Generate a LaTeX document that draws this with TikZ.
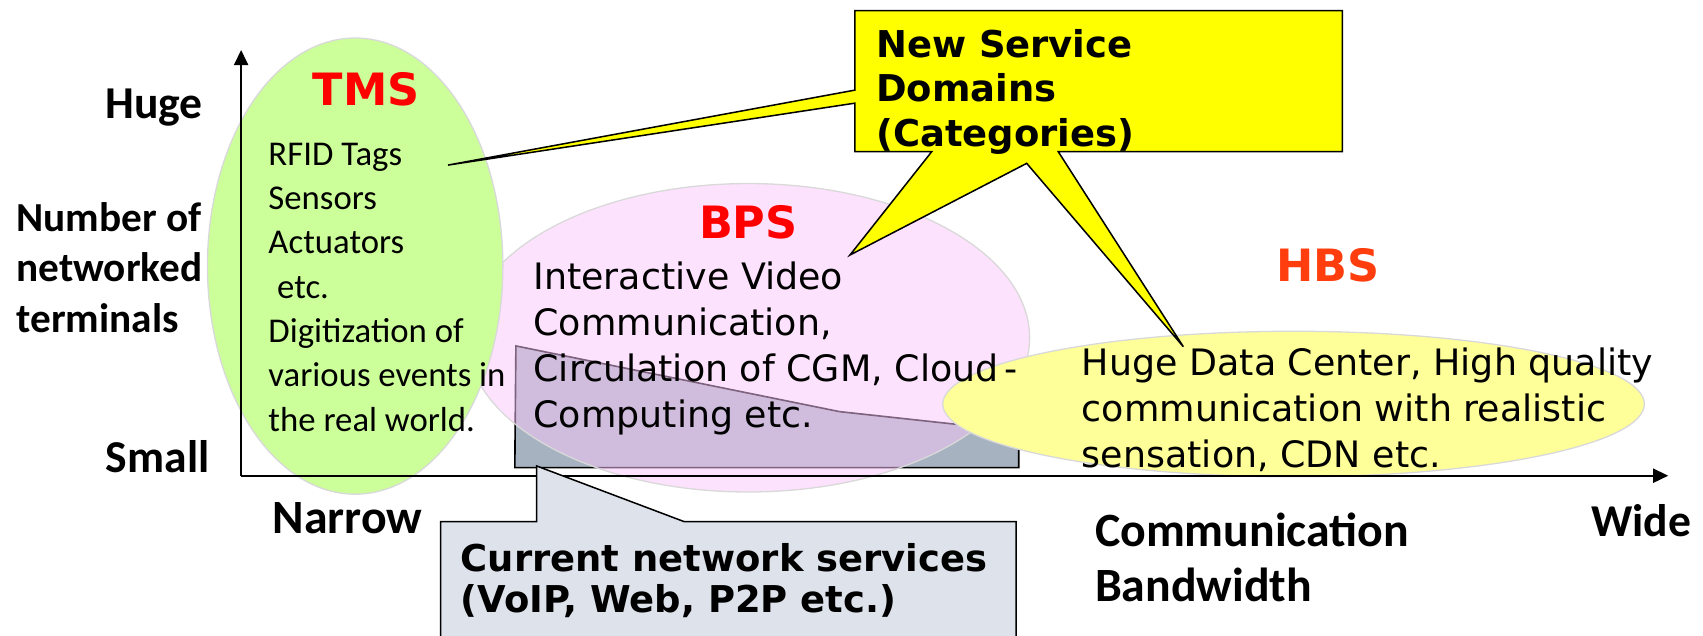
\documentclass[tikz,border=0pt]{standalone}
\usepackage{fontspec}
\setmainfont{Carlito}
\newfontfamily\djsans{DejaVu Sans}
\usetikzlibrary{arrows.meta}
\definecolor{tmsgreen}{RGB}{204,255,153}
\definecolor{bpspink}{RGB}{251,198,251}
\definecolor{hbsyellow}{RGB}{255,255,153}
\definecolor{curgray}{RGB}{166,178,192}
\definecolor{ellgray}{RGB}{217,217,217}
\definecolor{callyellow}{RGB}{255,255,0}
\definecolor{callgray}{RGB}{222,227,235}
\definecolor{hbsred}{RGB}{255,61,13}
\tikzset{
  axislbl/.style={font=\bfseries\fontsize{42}{46.5}\selectfont, inner sep=0},
  axislblml/.style={font=\bfseries\fontsize{38}{46.5}\selectfont, inner sep=0, align=left, anchor=north west},
  tmstext/.style={font=\fontsize{32}{40.8}\selectfont, inner sep=0, align=left, anchor=north west},
  bodytext/.style={font=\djsans\fontsize{33.5}{42.2}\selectfont, inner sep=0, align=left, anchor=north west},
  region/.style={draw=ellgray, line width=1.2},
  catlbl/.style={font=\djsans\bfseries\fontsize{41}{41}\selectfont, inner sep=0},
  callout/.style={draw=black, line width=1.4, line join=miter},
  calltext/.style={font=\djsans\bfseries\fontsize{34}{40.7}\selectfont, inner sep=0, align=left, anchor=north west},
  axisline/.style={line width=1.8, -{Triangle[length=14pt,width=13pt]}},
}
\begin{document}
\begin{tikzpicture}[x=1pt,y=-1pt]
\clip (0,0) rectangle (1568,585);
% current network services area
\draw[fill=curgray, draw=black, line width=1.5]
  (475,318.5) -- (773,379) -- (878,390.4) -- (938,395) -- (938,430.5) -- (474,430.5) -- cycle;
% BPS ellipse (semi-transparent)
\path[fill=bpspink, fill opacity=0.5] (689,311) ellipse [x radius=259, y radius=142];
\draw[ellgray, line width=1.2] (689,311) ellipse [x radius=259, y radius=142];
% TMS ellipse
\draw[region, fill=tmsgreen] (327,245) ellipse [x radius=136, y radius=210];
% HBS ellipse
\draw[region, fill=hbsyellow] (1191,372) ellipse [x radius=323, y radius=67];
% axes
\coordinate (O) at (222,438);
\coordinate (Ytip) at (222,46);
\coordinate (Xtip) at (1536,438);
\draw[axisline] (O) -- (Ytip);
\draw[axisline] (O) -- (Xtip);
% axis labels
\node[axislbl, anchor=base east] (huge) at (187,109) {Huge};
\node[axislbl, anchor=base east] (small) at (193,435) {Small};
\node[axislblml] (ylab) at (15,186) {Number of\\networked\\terminals};
\node[axislbl, font=\bfseries\fontsize{44}{46}\selectfont, anchor=base west] (narrow) at (251,491) {Narrow};
\node[axislbl, anchor=base west] (wide) at (1465,494) {Wide};
\node[axislblml, font=\bfseries\fontsize{44}{51}\selectfont] (xlab) at (1008,472) {Communication\\Bandwidth};
% category labels
\node[catlbl, text=red] (tms) at (337,82) {TMS};
\node[catlbl, text=red] (bps) at (689,205) {BPS};
\node[catlbl, text=hbsred] (hbs) at (1223,244) {HBS};
% body texts
\node[tmstext] (tmsbody) at (247,131.5) {RFID Tags\\Sensors\\Actuators\\\hspace*{0.25em}etc.\\Digitization of\\various events in\\the real world.};
\node[bodytext] (bpsbody) at (491,241) {Interactive Video\\Communication,\\Circulation of CGM, Cloud\,-\\Computing etc.};
\node[bodytext] (hbsbody) at (996,320.4) {Huge Data Center, High quality\\communication with realistic\\sensation, CDN etc.};
% new service domains callout
\coordinate (tip1) at (412.5,152);
\coordinate (tip2) at (782.6,234.8);
\coordinate (tip3) at (1089.5,319.2);
\draw[callout, fill=callyellow]
  (787,9.8) -- (1236,9.8) -- (1236,139.7) -- (974.4,139.7) -- (tip3) -- (945.3,150.4)
  -- (tip2) -- (857.8,139.7) -- (787,139.7) -- (787,95) -- (tip1) -- (787,83) -- cycle;
\node[calltext] (nsd) at (806.5,27) {New Service\\Domains\\(Categories)};
% current network services callout
\coordinate (tip4) at (494,429);
\draw[callout, fill=callgray]
  (405.7,480.3) -- (494,480.3) -- (tip4) -- (630,480.3) -- (935.5,480.3) -- (935.5,600) -- (405.7,600) -- cycle;
\node[calltext, font=\djsans\bfseries\fontsize{34}{38}\selectfont] (cns) at (424,500) {Current network services\\(VoIP, Web, P2P etc.)};
\end{tikzpicture}
\end{document}
